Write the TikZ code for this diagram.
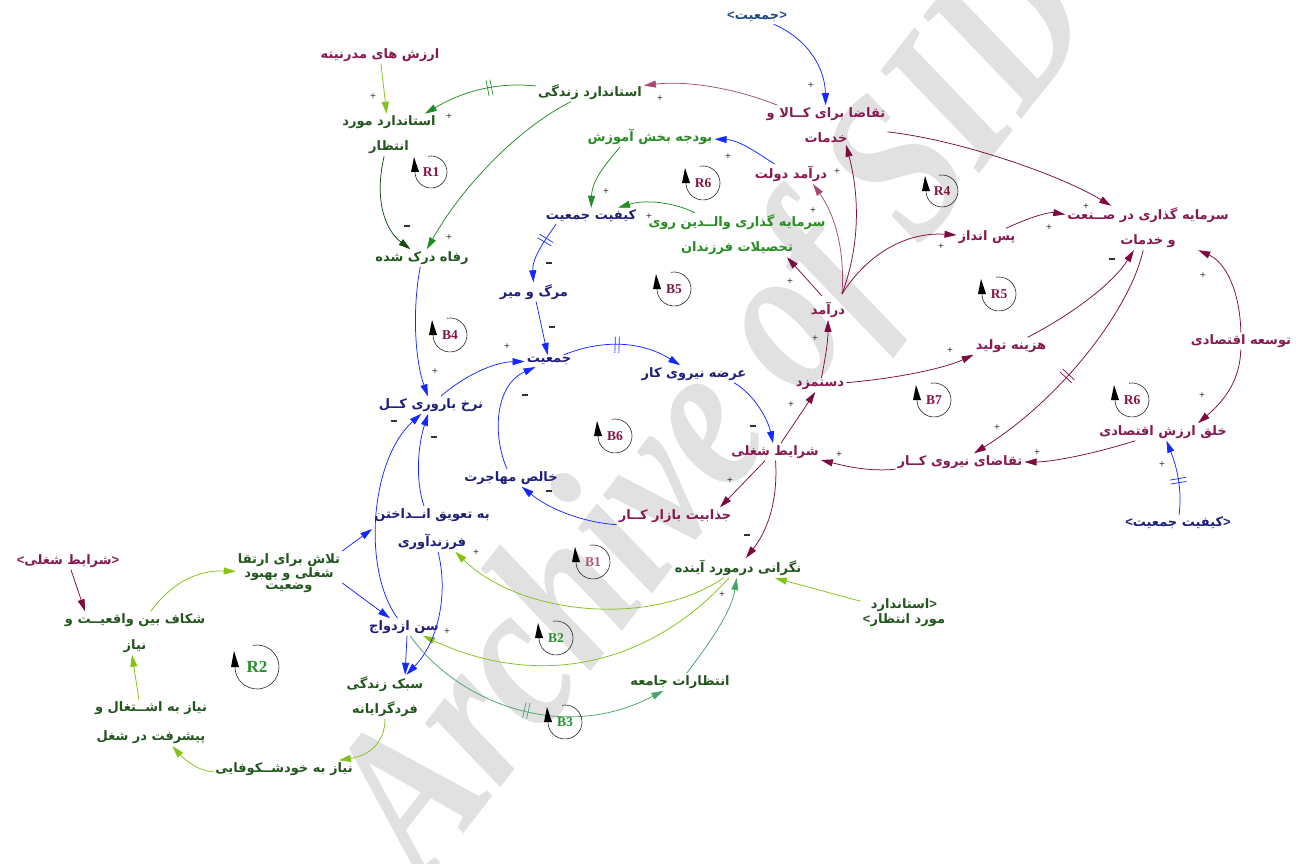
\documentclass[tikz,border=0pt]{standalone}
\usepackage{fontspec}
\setmainfont{Liberation Serif}
\newfontfamily\farsi[Script=Arabic]{DejaVu Sans}
\newfontfamily\sansf{Liberation Sans}
\TeXXeTstate=1
\usetikzlibrary{arrows.meta,decorations.markings}
\newcommand{\fa}[1]{\beginR#1\endR}
\newcommand{\angL}{{\sansf\bfseries<}}
\newcommand{\angR}{{\sansf\bfseries>}}
\definecolor{mT}{RGB}{135,25,80}
\definecolor{gD}{RGB}{35,85,30}
\definecolor{gB}{RGB}{40,140,35}
\definecolor{nB}{RGB}{30,30,125}
\definecolor{sB}{RGB}{35,75,135}
\definecolor{aBlue}{RGB}{20,40,255}
\definecolor{aMar}{RGB}{125,10,65}
\definecolor{aMarL}{RGB}{165,75,115}
\definecolor{aGr}{RGB}{35,140,35}
\definecolor{aGD}{RGB}{20,75,20}
\definecolor{aYG}{RGB}{130,195,20}
\definecolor{aSG}{RGB}{70,165,105}
\definecolor{lpM}{RGB}{130,20,70}
\definecolor{lpL}{RGB}{175,85,125}
\definecolor{lpG}{RGB}{40,140,40}
\definecolor{wm}{RGB}{225,225,225}
\newcommand{\loopmk}[6]{%
  \node[lpl, text=#5] (#1) at (#2,#3) {#4};
  \draw[lpc] ([shift={(-100:#6)}]#1.center) arc[start angle=-100, end angle=180, radius=#6];
  \fill[black] ([shift={(-#6-4,0)}]#1.center) -- ([shift={(-#6+4,0)}]#1.center) -- ([shift={(-#6-1,-15)}]#1.center) -- cycle;
}
\tikzset{
 vn/.style={font=\farsi\bfseries\fontsize{13}{25}\selectfont, inner sep=2pt, align=center},
 vt/.style={font=\farsi\bfseries\fontsize{13}{12.5}\selectfont, inner sep=2pt, align=center},
 vt2/.style={font=\farsi\bfseries\fontsize{13}{15}\selectfont, inner sep=2pt, align=center},
 lnk/.style={line width=0.75pt, -{Triangle[length=12pt,width=7pt]}},
 ab/.style={lnk, color=aBlue},
 am/.style={lnk, color=aMar},
 aml/.style={lnk, color=aMarL},
 agr/.style={lnk, color=aGr},
 agd/.style={lnk, color=aGD},
 ayg/.style={lnk, color=aYG},
 asg/.style={lnk, color=aSG},
 dly/.style={postaction={decorate, decoration={markings, mark=at position #1 with {\draw[line width=0.7pt,-] (-2,-8) -- (-2,8) (2,-8) -- (2,8);}}}},
 pol/.style={font=\sansf\fontsize{10}{10}\selectfont, inner sep=0pt, text=black!80},
 lpl/.style={font=\bfseries\fontsize{13.5}{14}\selectfont, inner sep=0pt},
 lpc/.style={line width=0.6pt, draw=black!85},
}
\begin{document}
\begin{tikzpicture}[x=1pt, y=-1pt]
\useasboundingbox[fill=white] (0,0) rectangle (1296,864);
\node[font=\bfseries\itshape\fontsize{215}{215}\selectfont, text=wm, rotate=52, xscale=0.82, inner sep=0pt] (wmk) at (722,418) {Archive of SID};

% variables
\node[vn, text=mT] (mod) at (380,55) {\fa{ارزش های مدرنیته}};
\node[vn, text=gD] (esd) at (389,135) {\fa{استاندارد مورد}\\\fa{انتظار}};
\node[vn, text=gD] (sz) at (590,92) {\fa{استاندارد زندگی}};
\node[vn, text=gD] (rafah) at (422,258) {\fa{رفاه درک شده}};
\node[vn, text=sB] (pop0) at (757,17) {\angL\fa{جمعیت}\angR};
\node[vn, text=mT] (tq) at (826,125) {\fa{تقاضا برای کــالا و}\\\fa{خدمات}};
\node[vn, text=gB] (bud) at (650,137) {\fa{بودجه بخش آموزش}};
\node[vn, text=mT] (gov) at (791,174) {\fa{درآمد دولت}};
\node[vn, text=nB] (kq) at (591,216) {\fa{کیفیت جمعیت}};
\node[vn, text=gB] (sv) at (737,235) {\fa{سرمایه گذاری والــدین روی}\\\fa{تحصیلات فرزندان}};
\node[vn, text=nB] (mort) at (534,292) {\fa{مرگ و میر}};
\node[vn, text=nB] (pop) at (549,361) {\fa{جمعیت}};
\node[vn, text=nB] (lab) at (694,374) {\fa{عرضه نیروی کار}};
\node[vn, text=nB] (tfr) at (431,405) {\fa{نرخ باروری کــل}};
\node[vn, text=mT] (job) at (775,452) {\fa{شرایط شغلی}};
\node[vn, text=mT] (attr) at (675,516) {\fa{جذابیت بازار کــار}};
\node[vn, text=nB] (mig) at (511,478) {\fa{خالص مهاجرت}};
\node[vn, text=nB] (bt) at (432,529) {\fa{به تعویق انــداختن}\\[3pt]\fa{فرزندآوری}};
\node[vt, text=gD] (eff) at (289,573) {\fa{تلاش برای ارتقا}\\\fa{شغلی و بهبود}\\\fa{وضعیت}};
\node[vn, text=mT] (cs) at (68,561) {\angL\fa{شرایط شغلی}\angR};
\node[vn, text=gD] (gap) at (135,633) {\fa{شکاف بین واقعیــت و}\\[1pt]\fa{نیاز}};
\node[vn, text=nB] (mar) at (404,627) {\fa{سن ازدواج}};
\node[vn, text=gD] (lif) at (385,697) {\fa{سبک زندگی}\\\fa{فردگرایانه}};
\node[vn, text=gD] (need) at (151,723) {\fa{نیاز به اشــتغال و}\\[4pt]\fa{پیشرفت در شغل}};
\node[vn, text=gD] (self) at (284,769) {\fa{نیاز به خودشــکوفایی}};
\node[vn, text=gD] (worry) at (738,568) {\fa{نگرانی درمورد آینده}};
\node[vn, text=gD] (soc) at (680,682) {\fa{انتظارات جامعه}};
\node[vt2, text=gD] (std2) at (904,613) {\fa{استاندارد}\angR\\\angL\fa{مورد انتظار}};
\node[vn, text=mT] (inc) at (828,310) {\fa{درآمد}};
\node[vn, text=mT] (wage) at (820,385) {\fa{دستمزد}};
\node[vn, text=mT] (cost) at (1011,346) {\fa{هزینه تولید}};
\node[vn, text=mT] (sav) at (987,237) {\fa{پس انداز}};
\node[vn, text=mT] (si) at (1148,228) {\fa{سرمایه گذاری در صــنعت}\\\fa{و خدمات}};
\node[vn, text=mT] (dev) at (1241,341) {\fa{توسعه اقتصادی}};
\node[vn, text=mT] (cre) at (1163,432) {\fa{خلق ارزش اقتصادی}};
\node[vn, text=mT] (ldem) at (960,462) {\fa{تقاضای نیروی کــار}};
\node[vn, text=nB] (kq2) at (1178,523) {\angL\fa{کیفیت جمعیت}\angR};

% links
\draw[ayg] (mod) -- (esd);
\draw[agr, dly=0.4] (sz) .. controls (500,82) and (465,90) .. (esd);
\draw[agr] (sz) .. controls (515,130) and (460,190) .. (rafah);
\draw[agd] (esd) .. controls (374,200) and (385,230) .. (rafah);
\draw[aml] (tq) .. controls (740,90) and (690,80) .. (sz);
\draw[ab] (pop0) .. controls (810,40) and (825,70) .. (tq);
\draw[ab] (gov) .. controls (760,155) and (740,140) .. (bud);
\draw[agr] ([xshift=-30pt]bud.south) .. controls (605,165) and (592,180) .. (kq);
\draw[agr] (sv) .. controls (680,205) and (650,198) .. (kq);
\draw[ab, dly=0.3] ([xshift=-35pt]kq.south) .. controls (545,240) and (532,258) .. (mort);
\draw[ab] (mort) -- (pop);
\draw[ab, dly=0.45] (pop) .. controls (600,340) and (640,340) .. (lab);
\draw[ab] (tfr) .. controls (465,375) and (495,362) .. (pop);
\draw[ab] (mig) .. controls (492,435) and (495,385) .. (pop);
\draw[ab] (rafah) .. controls (412,310) and (415,360) .. (tfr);
\draw[ab] ([xshift=40pt]lab.south) .. controls (755,395) and (768,420) .. (job);
\draw[am] ([xshift=-10pt]job.south) -- ([xshift=45pt]attr.north);
\draw[ab] (attr.south west) .. controls (580,522) and (548,508) .. (mig);
\draw[am] (job) .. controls (778,500) and (768,530) .. (worry);
\draw[am] (job) -- (wage);
\draw[am] (wage) .. controls (826,355) and (828,340) .. (inc);
\draw[am] ([xshift=-6pt,yshift=4pt]inc.north) -- ([xshift=50pt]sv.south);
\draw[aml] ([xshift=14pt,yshift=6pt]inc.north) .. controls (845,250) and (835,215) .. ([xshift=22pt]gov.south);
\draw[am] ([xshift=14pt,yshift=6pt]inc.north) .. controls (862,240) and (858,190) .. ([xshift=20pt]tq.south);
\draw[am] ([xshift=14pt,yshift=6pt]inc.north) .. controls (870,250) and (910,232) .. (sav);
\draw[am] (sav) .. controls (1035,215) and (1050,212) .. (si);
\draw[am] (tq) .. controls (960,140) and (1060,175) .. (si);
\draw[am] (wage) .. controls (900,378) and (945,368) .. (cost.south west);
\draw[am] (cost) .. controls (1080,310) and (1115,280) .. (si);
\draw[am, dly=0.55] (si) .. controls (1130,310) and (1060,400) .. (ldem);
\draw[am] (dev) .. controls (1240,290) and (1225,262) .. (si);
\draw[am] (dev) .. controls (1240,380) and (1225,400) .. ([xshift=35pt]cre.north);
\draw[am] (cre) .. controls (1090,455) and (1050,462) .. (ldem);
\draw[am] (ldem) .. controls (870,472) and (845,466) .. ([yshift=-8pt]job.east);
\draw[ab, dly=0.45] (kq2) .. controls (1182,492) and (1178,470) .. (cre);
\draw[ayg] (std2) -- (worry);
\draw[ayg] (worry) .. controls (650,628) and (520,615) .. (bt);
\draw[ayg] (worry) .. controls (650,665) and (540,690) .. (mar);
\draw[asg, dly=0.5] (mar) .. controls (455,700) and (560,745) .. (soc);
\draw[asg] (soc) .. controls (712,640) and (732,610) .. (worry);
\draw[ab] (mar) .. controls (362,570) and (370,460) .. (tfr);
\draw[ab] (bt) .. controls (415,480) and (418,445) .. (tfr);
\draw[ab] (bt) .. controls (448,590) and (440,640) .. (lif);
\draw[ab] ([xshift=3pt]mar.south) -- ([xshift=20pt]lif.north);
\draw[ab] (eff.north east) -- (bt.west);
\draw[ab] ([yshift=-10pt]eff.east) -- ([xshift=-14pt]mar.north);
\draw[ayg] (lif) .. controls (385,740) and (372,755) .. (self);
\draw[ayg] (self) .. controls (200,772) and (185,760) .. (need);
\draw[ayg] ([xshift=-12pt]need.north) -- ([xshift=-3pt]gap.south);
\draw[ayg] (gap) .. controls (170,585) and (195,570) .. (eff);
\draw[am] (cs) -- ([xshift=-50pt]gap.north);

% polarities
\node[pol] (s1) at (373,97) {+};
\node[pol] (s2) at (449,117) {+};
\node[pol] (s3) at (449,238) {+};
\node[pol] (s4) at (407,226) {\rule{6pt}{1.3pt}};
\node[pol] (s5) at (660,99) {+};
\node[pol] (s6) at (811,86) {+};
\node[pol] (s7) at (728,157) {+};
\node[pol] (s8) at (606,192) {+};
\node[pol] (s9) at (649,217) {+};
\node[pol] (s10) at (549,263) {\rule{6pt}{1.3pt}};
\node[pol] (s11) at (552,327) {\rule{6pt}{1.3pt}};
\node[pol] (s12) at (507,347) {+};
\node[pol] (s13) at (525,395) {\rule{6pt}{1.3pt}};
\node[pol] (s14) at (435,372) {+};
\node[pol] (s15) at (753,426) {\rule{6pt}{1.3pt}};
\node[pol] (s16) at (730,481) {+};
\node[pol] (s17) at (549,491) {\rule{6pt}{1.3pt}};
\node[pol] (s18) at (747,535) {\rule{6pt}{1.3pt}};
\node[pol] (s19) at (791,405) {+};
\node[pol] (s20) at (815,339) {+};
\node[pol] (s21) at (790,282) {+};
\node[pol] (s22) at (813,211) {+};
\node[pol] (s23) at (837,172) {+};
\node[pol] (s24) at (941,247) {+};
\node[pol] (s25) at (1049,228) {+};
\node[pol] (s26) at (1086,207) {+};
\node[pol] (s27) at (950,351) {+};
\node[pol] (s28) at (1112,259) {\rule{6pt}{1.3pt}};
\node[pol] (s29) at (997,428) {+};
\node[pol] (s30) at (1203,276) {+};
\node[pol] (s31) at (1202,396) {+};
\node[pol] (s32) at (1037,453) {+};
\node[pol] (s33) at (839,455) {+};
\node[pol] (s34) at (1162,465) {+};
\node[pol] (s35) at (476,553) {+};
\node[pol] (s36) at (447,632) {+};
\node[pol] (s37) at (722,595) {+};
\node[pol] (s38) at (394,421) {\rule{6pt}{1.3pt}};
\node[pol] (s39) at (434,437) {\rule{6pt}{1.3pt}};

% loop markers
\loopmk{R1}{431}{172}{R1}{lpM}{16}
\loopmk{R6a}{703}{183}{R6}{lpM}{17}
\loopmk{R4}{942}{191}{R4}{lpM}{16}
\loopmk{B5}{674}{289}{B5}{lpM}{17}
\loopmk{R5}{999}{294}{R5}{lpM}{17}
\loopmk{B4}{450}{335}{B4}{lpM}{17}
\loopmk{B6}{615}{436}{B6}{lpM}{17}
\loopmk{B7}{934}{400}{B7}{lpM}{17}
\loopmk{R6b}{1132}{400}{R6}{lpM}{17}
\loopmk{B1}{593}{562}{B1}{lpL}{17}
\loopmk{B2}{556}{638}{B2}{lpG}{17}
\loopmk{B3}{565}{722}{B3}{lpG}{17}
\node[lpl, text=lpG, font=\bfseries\fontsize{17}{18}\selectfont] (R2) at (257,667) {R2};
\draw[lpc] ([shift={(-100:22)}]R2.center) arc[start angle=-100, end angle=180, radius=22];
\fill[black] ([shift={(-26,0)}]R2.center) -- ([shift={(-18,0)}]R2.center) -- ([shift={(-23,-16)}]R2.center) -- cycle;
\end{tikzpicture}
\end{document}
